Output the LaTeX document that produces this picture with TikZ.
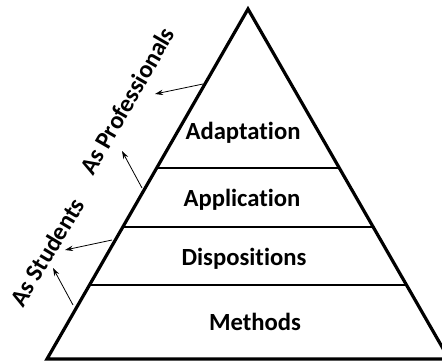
\documentclass[tikz,border=0pt]{standalone}
\usepackage{fontspec}
\setmainfont{Carlito}[Ligatures=NoCommon]
\usetikzlibrary{arrows.meta,calc}

\tikzset{every picture/.style={line width=0.75pt}}
\tikzset{
	level label/.style={font=\fontsize{18.5}{20}\selectfont\bfseries},
	side label/.style={font=\fontsize{18.5}{20}\selectfont\bfseries},
	pointer/.style={line width=0.6pt,-{Stealth[length=6pt,width=4pt]}}}

\begin{document}
\begin{tikzpicture}[x=0.75pt,y=0.75pt,yscale=-1,xscale=1]
	\useasboundingbox (0,0) rectangle (442,362);

	%Corners of the pyramid
	\coordinate (apex) at (248,9);
	\coordinate (bl) at (47,359);
	\coordinate (br) at (449,359);

	%Shape: Triangle
	\draw [line width=2.4pt,line join=miter] (bl) -- (apex) -- (br) -- cycle ;

	%Dividers
	\draw [line width=1.2pt] ($(apex)!0.454!(bl)$) -- ($(apex)!0.454!(br)$) ;
	\draw [line width=1.2pt] ($(apex)!0.623!(bl)$) -- ($(apex)!0.623!(br)$) ;
	\draw [line width=1.2pt] ($(apex)!0.789!(bl)$) -- ($(apex)!0.789!(br)$) ;

	% Text Node
	\node [level label] (adapt) at (243,133) {Adaptation};
	% Text Node
	\node [level label] (appl) at (242,200) {Application};
	% Text Node
	\node [level label] (disp) at (244,259) {Dispositions};
	% Text Node
	\node [level label] (meth) at (255,322) {Methods};

	% Text Node
	\node [side label,rotate=60] (prof) at (127,101) {As Professionals};
	% Text Node
	\node [side label,rotate=59] (stud) at (47,252) {As Students};

	%Arrows
	\coordinate (a1s) at (203,84);
	\coordinate (a1e) at (155,94);
	\coordinate (a2s) at (142,188);
	\coordinate (a2e) at (122,151);
	\coordinate (a3s) at (112,240);
	\coordinate (a3e) at (65,250);
	\coordinate (a4s) at (73,305);
	\coordinate (a4e) at (53,268);
	\draw [pointer] (a1s) -- (a1e) ;
	\draw [pointer] (a2s) -- (a2e) ;
	\draw [pointer] (a3s) -- (a3e) ;
	\draw [pointer] (a4s) -- (a4e) ;

\end{tikzpicture}
\end{document}
